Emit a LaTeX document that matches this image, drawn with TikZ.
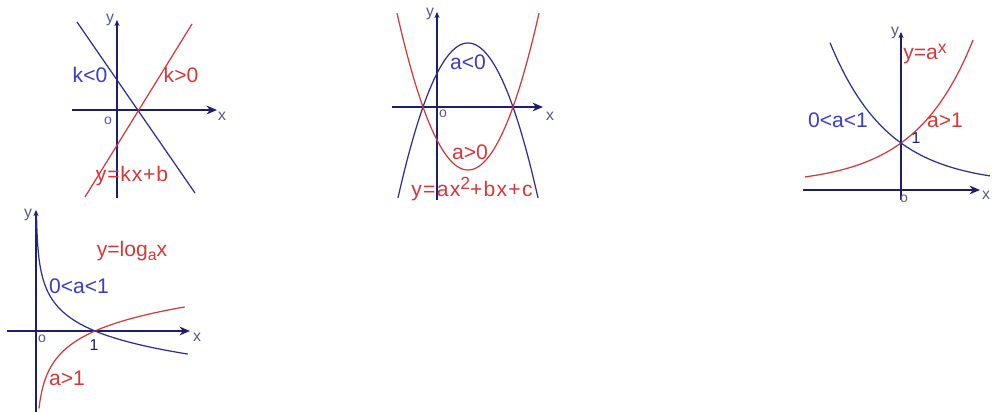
\documentclass[tikz,border=0pt]{standalone}
\usepackage{fontspec}
\setmainfont{Liberation Sans}
\usetikzlibrary{arrows.meta}
\definecolor{axiscol}{RGB}{30,30,110}
\definecolor{bluecurve}{RGB}{45,45,150}
\definecolor{bluetext}{RGB}{60,60,200}
\definecolor{redcurve}{RGB}{215,55,55}
\newcommand{\mysup}[1]{\raisebox{0.55ex}{\fontsize{10}{10}\selectfont #1}}
\newcommand{\mysub}[1]{\raisebox{-0.35ex}{\fontsize{9}{9}\selectfont #1}}
\begin{document}
\begin{tikzpicture}[x=0.02cm,y=-0.02cm,
  axis/.style={axiscol,line width=0.8pt},
  xarrow/.style={-{Stealth[length=6pt,width=5pt]}},
  yarrow/.style={-{Stealth[length=3.5pt,width=3pt]}},
  curveb/.style={bluecurve,line width=0.7pt},
  curver/.style={redcurve,line width=0.7pt},
  lab/.style={font=\fontsize{12}{14}\selectfont,inner sep=0pt},
  btext/.style={lab,text=bluetext},
  rtext/.style={lab,text=redcurve},
  axlab/.style={font=\fontsize{9}{10}\selectfont,text=axiscol!75,inner sep=0pt},
  olab/.style={font=\fontsize{8}{8}\selectfont,text=axiscol!75,inner sep=0pt},
  onelab/.style={font=\fontsize{9}{10}\selectfont,text=axiscol,inner sep=0pt}]
\useasboundingbox (0,0) rectangle (992,412);

% ---------- graph 1 : y = kx + b ----------
\draw[axis,xarrow] (72,110) -- (217,110);
\draw[axis,yarrow] (117,198) -- (117,20);
\draw[curveb] (77,22) -- (195,193);
\draw[curver] (85,197) -- (192,24);
\node[axlab] (g1y) at (110,20) {y};
\node[axlab] (g1x) at (222,116) {x};
\node[olab] (g1o) at (108,121) {o};
\node[btext] (g1kneg) at (90,75) {k<0};
\node[rtext] (g1kpos) at (181,75) {k>0};
\node[rtext] (g1eq) at (132,176) {\addfontfeature{LetterSpace=4}y=kx+b};

% ---------- graph 2 : y = ax^2 + bx + c ----------
\draw[axis,xarrow] (392,107) -- (543,107);
\draw[axis,yarrow] (437,200) -- (437,12);
\draw[curveb] plot[domain=398:538,samples=80] (\x,{107-64*(1-((\x-468)/45)^2)});
\draw[curver] plot[domain=397:539,samples=80] (\x,{107+63*(1-((\x-468)/45)^2)});
\node[axlab] (g2y) at (430,14) {y};
\node[axlab] (g2x) at (550,116) {x};
\node[olab] (g2o) at (443,114) {o};
\node[btext] (g2aneg) at (468,62) {a<0};
\node[rtext] (g2apos) at (470,152) {a>0};
\node[rtext] (g2eq) at (472,189) {\addfontfeature{LetterSpace=6}y=ax\mysup{2}+bx+c};

% ---------- graph 3 : y = a^x ----------
\draw[axis,xarrow] (803,190) -- (980,190);
\draw[axis,yarrow] (901,200) -- (901,32);
\draw[curver] plot[domain=805:973,samples=80] (\x,{185-42*exp(0.0172*(\x-901))});
\draw[curveb] plot[domain=830:990,samples=80] (\x,{185-42*exp(-0.0172*(\x-901))});
\node[axlab] (g3y) at (895,33) {y};
\node[axlab] (g3x) at (986,195) {x};
\node[olab] (g3o) at (904,199) {o};
\node[rtext] (g3eq) at (925,54) {y=a\mysup{x}};
\node[btext] (g3small) at (838,120) {0<a<1};
\node[rtext] (g3big) at (945,120) {a>1};
\node[onelab] (g3one) at (916,138) {1};

% ---------- graph 4 : y = log_a x ----------
\draw[axis,xarrow] (7,331) -- (190,331);
\draw[axis,yarrow] (36,412) -- (36,210);
\draw[curver] plot[variable=\t,domain=-2.98:0.926,samples=100] ({36+59*exp(\t)},{331-26*\t});
\draw[curveb] plot[variable=\t,domain=-4.8:0.946,samples=100] ({36+59*exp(\t)},{331+24.4*\t});
\node[axlab] (g4y) at (28,215) {y};
\node[axlab] (g4x) at (197,337) {x};
\node[olab] (g4o) at (42,339) {o};
\node[onelab] (g4one) at (94,345) {1};
\node[rtext] (g4eq) at (132,251) {y=log\mysub{a}x};
\node[btext] (g4small) at (79,286) {0<a<1};
\node[rtext] (g4big) at (67,378) {a>1};
\end{tikzpicture}
\end{document}
